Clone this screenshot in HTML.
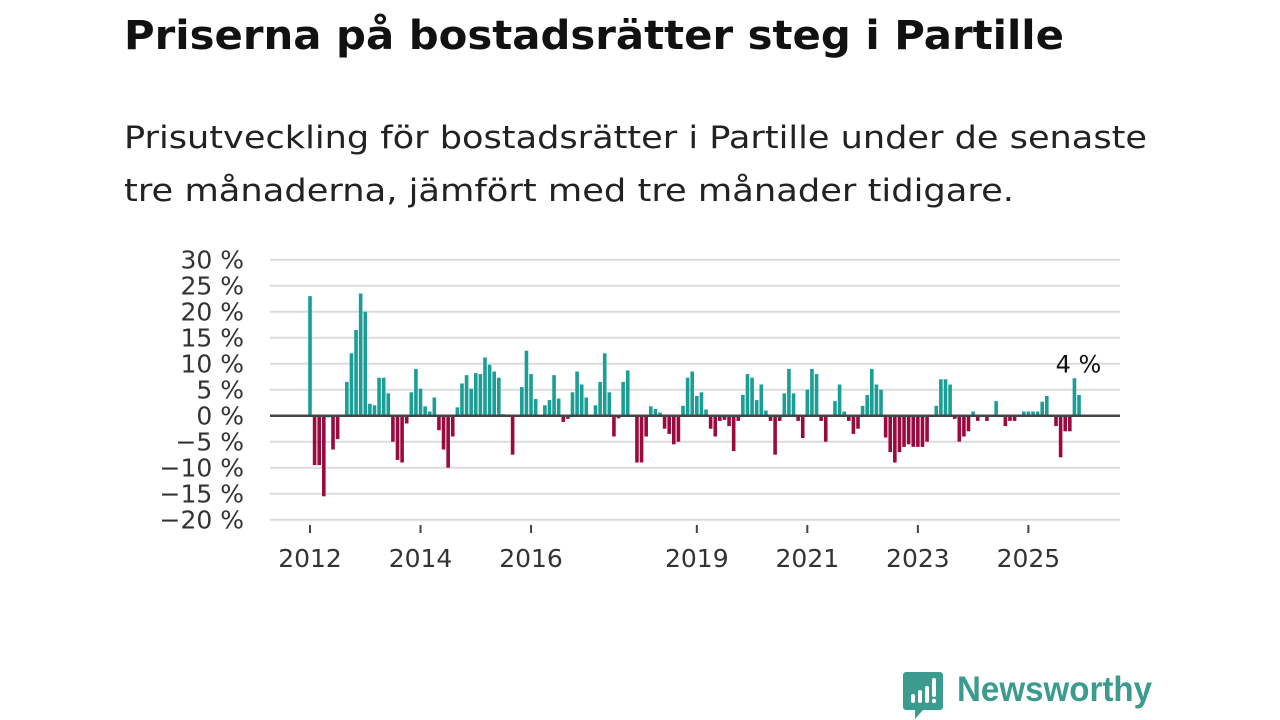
<!DOCTYPE html>
<html><head><meta charset="utf-8"><style>
body{margin:0;width:1280px;height:720px;background:#fff;overflow:hidden;font-family:"DejaVu Sans","Liberation Sans",sans-serif;}
#title{position:absolute;left:124px;top:13px;font-size:40px;font-weight:bold;color:#111;margin:0;white-space:nowrap;transform-origin:0 0}
.sl{position:absolute;left:124px;font-size:31px;color:#222;margin:0;white-space:nowrap;transform-origin:0 0}
svg{position:absolute;left:0;top:0}
</style></head><body>
<h1 id="title">Priserna på bostadsrätter steg i Partille</h1>
<div>
<span class="sl" id="s1" style="top:120px">Prisutveckling för bostadsrätter i Partille under de senaste</span>
<span class="sl" id="s2" style="top:173px">tre månaderna, jämfört med tre månader tidigare.</span>
</div>
<svg id="chart" width="1280" height="720"></svg>
<div style="position:absolute;left:903px;top:672px;">
<svg width="40" height="48" style="position:absolute;left:0;top:0"><path d="M3 0h34a3 3 0 0 1 3 3v32a3 3 0 0 1-3 3H20l-8 9v-9H3a3 3 0 0 1-3-3V3a3 3 0 0 1 3-3z" fill="#3a9b8e"/><rect x="8" y="22" width="4" height="9" rx="2" fill="#fff"/><rect x="15" y="18" width="4" height="13" rx="2" fill="#fff"/><rect x="22" y="14" width="4" height="17" rx="2" fill="#fff"/><rect x="29" y="6" width="4" height="19" rx="2" fill="#fff"/><circle cx="31" cy="29" r="2.2" fill="#fff"/></svg>
<span id="logo-text" style="position:absolute;left:54px;top:-2px;font-size:35px;font-weight:bold;color:#3a9b8e;white-space:nowrap;font-family:'Liberation Sans',sans-serif;transform-origin:0 0">Newsworthy</span>
</div>
<script>
const values=[23,-9.5,-9.5,-15.5,-0.3,-6.5,-4.5,0,6.5,12,16.5,23.5,20,2.3,2,7.3,7.3,4.3,-5,-8.5,-9,-1.5,4.5,9,5.2,1.8,0.8,3.5,-2.8,-6.5,-10,-4,1.6,6.2,7.8,5.2,8.2,8,11.2,9.8,8.5,7.3,0.3,0,-7.5,0,5.5,12.5,8,3.2,0,2,3,7.8,3.3,-1.2,-0.6,4.5,8.5,6,3.5,0,2,6.5,12,4.5,-4,-0.5,6.5,8.7,0.2,-9,-9,-4,1.8,1.3,0.6,-2.5,-3.5,-5.5,-5,1.9,7.3,8.5,3.8,4.5,1.2,-2.5,-4,-1,-0.8,-2,-6.8,-1,4,8,7.3,3,6,1,-1,-7.5,-1,4.3,9,4.3,-1,-4.3,5,9,8,-1,-5,0,2.8,6,0.8,-1,-3.5,-2.5,1.9,4,9,6,5,-4.2,-7,-9,-7,-6,-5.5,-6,-6,-6,-5,0,1.9,7,7,6,-0.6,-5,-4,-3,0.8,-1,0,-1,0,2.8,0,-2,-1,-1,0,0.8,0.8,0.8,0.8,2.7,3.8,0,-2,-8,-3,-3,7.2,4];
const yTicks=[30,25,20,15,10,5,0,-5,-10,-15,-20];
const xTickYears=[2012,2014,2016,2019,2021,2023,2025];
const startYear=2012;
const lastLabel="4 %";
const NS="http://www.w3.org/2000/svg";
const svg=document.getElementById('chart');
const y=v=>415.7-v*5.2;
const x=i=>310+i*4.605;
const xYear=yr=>x((yr-startYear)*12);
function mk(t,a){const e=document.createElementNS(NS,t);for(const k in a)e.setAttribute(k,a[k]);svg.appendChild(e);return e;}
function fit(id,w){const e=document.getElementById(id);const cw=e.getBoundingClientRect().width;if(cw>0)e.style.transform='scaleX('+(w/cw)+')';}
fit('title',940);fit('s1',1023);fit('s2',890);fit('logo-text',195);
yTicks.forEach(t=>{
  if(t!==0){const g=mk('line',{x1:270,x2:1120,y1:y(t),y2:y(t),stroke:'#dcdcdc','stroke-width':2});
  
  }
  const l=mk('text',{x:244,y:y(t)+9,'text-anchor':'end','font-size':25,fill:'#333','font-family':'DejaVu Sans, sans-serif'});
  l.textContent=(t<0?'\u2212'+(-t):t)+' %';
  
  
});
values.forEach((v,i)=>{
  const r=mk('rect',{x:x(i)-1.8,width:3.6,y:Math.min(y(v),y(0)),height:Math.abs(y(v)-y(0)),fill:v>=0?'#1a9e96':'#9b0a3e'});
  
  
});
const z=mk('line',{x1:270,x2:1120,y1:y(0),y2:y(0),stroke:'#444','stroke-width':2.5});


xTickYears.forEach(yr=>{
  const tk=mk('line',{x1:xYear(yr),x2:xYear(yr),y1:525,y2:533,stroke:'#444','stroke-width':2});
  
  
  const l=mk('text',{x:xYear(yr),y:567,'text-anchor':'middle','font-size':25,fill:'#333','font-family':'DejaVu Sans, sans-serif'});
  l.textContent=yr;
  
  
});
const li=values.length-2;
const lab=mk('text',{x:x(li)+4,y:y(values[li])-6,'text-anchor':'middle','font-size':24,fill:'#111','font-family':'DejaVu Sans, sans-serif'});
lab.textContent=lastLabel;


</script>
</body></html>
